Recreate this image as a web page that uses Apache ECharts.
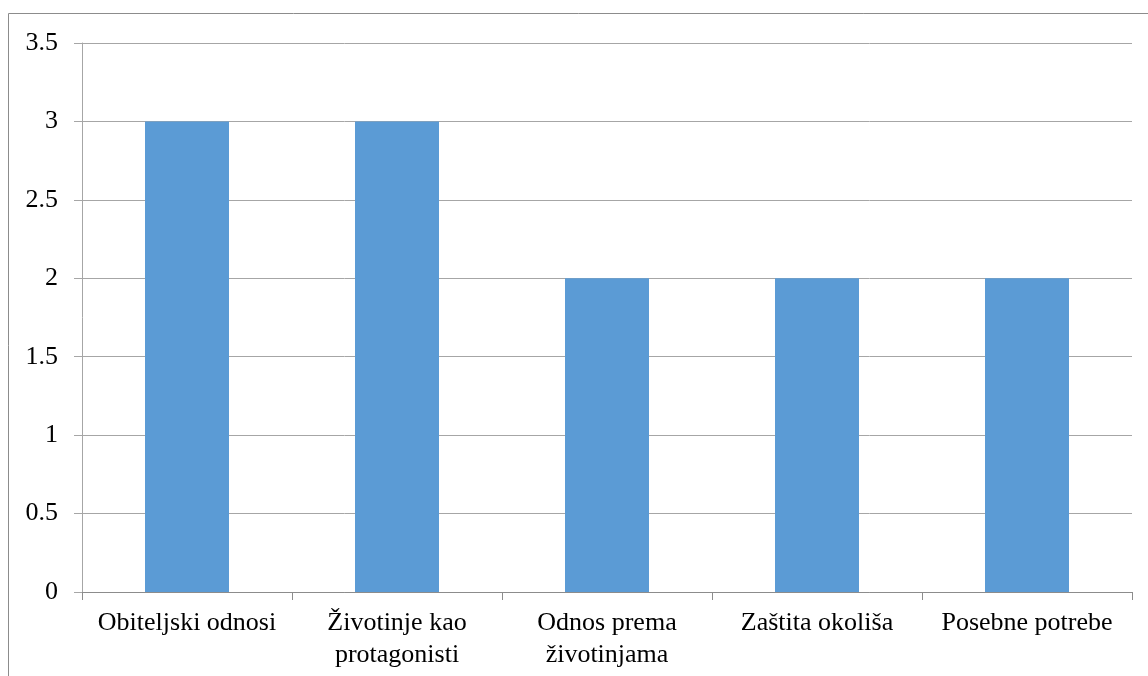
<!DOCTYPE html>
<html><head><meta charset="utf-8">
<script src="https://cdn.jsdelivr.net/npm/echarts@6/dist/echarts.min.js"></script>
<style>html,body{margin:0;padding:0;background:#fff;}#c{width:1148px;height:676px;}</style>
</head><body><div id="c"></div>
<script>
const categories = ['Obiteljski odnosi', 'Životinje kao\nprotagonisti', 'Odnos prema\nživotinjama', 'Zaštita okoliša', 'Posebne potrebe'];
const values = [3, 3, 2, 2, 2];
const chart = echarts.init(document.getElementById('c'));
const font = '"Liberation Serif", "Times New Roman", serif';
chart.setOption({
  animation: false,
  graphic: [{type:'rect', shape:{x:8.5,y:13.5,width:1200,height:700}, style:{fill:'none', stroke:'#8c8c8c', lineWidth:1}, silent:true}],
  grid: {left: 82, right: 16, top: 43, bottom: 84, containLabel: false},
  xAxis: {
    type: 'category', data: categories,
    axisLine: {lineStyle: {color: '#8c8c8c'}},
    axisTick: {show: true, length: 8, lineStyle: {color: '#8c8c8c'}},
    axisLabel: {color: '#000', fontFamily: font, fontSize: 26, margin: 15, lineHeight: 32, interval: 0}
  },
  yAxis: {
    type: 'value', min: 0, max: 3.5, interval: 0.5,
    axisLine: {show: true, lineStyle: {color: '#a6a6a6'}},
    axisTick: {show: true, length: 8, lineStyle: {color: '#a6a6a6'}},
    splitLine: {lineStyle: {color: '#a6a6a6'}},
    axisLabel: {color: '#000', fontFamily: font, fontSize: 26, margin: 24}
  },
  series: [{type: 'bar', data: values, barCategoryGap: '60%', itemStyle: {color: '#5B9BD5'}}]
});
</script></body></html>
